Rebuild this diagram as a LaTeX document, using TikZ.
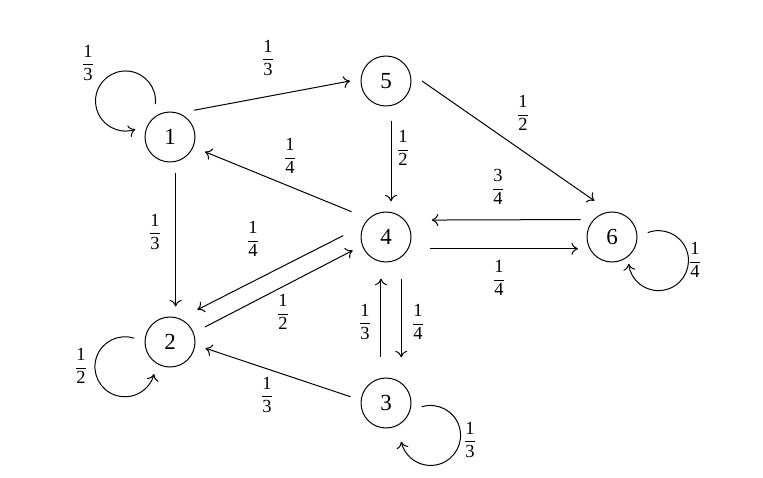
\documentclass[tikz,border=0pt]{standalone}
\usepackage{fontspec}
\setmainfont{Liberation Serif}
\usetikzlibrary{arrows.meta}
\newcommand\myfrac[2]{$\displaystyle\frac{\mbox{#1}}{\mbox{#2}}$}
\begin{document}
\begin{tikzpicture}[x=1pt,y=1pt,
  state/.style={circle,draw,line width=1pt,minimum size=50pt,inner sep=0pt,outer sep=11pt,font=\fontsize{23}{25}\selectfont},
  lab/.style={inner sep=0pt,font=\fontsize{18.5}{21}\selectfont},
  arr/.style={line width=1pt,-{To[length=6.5pt,width=12pt]}}]
\useasboundingbox (0,0) rectangle (763,477);
\node[state] (n1) at (170,340) {1};
\node[state] (n5) at (386,396) {5};
\node[state] (n4) at (386,240) {4};
\node[state] (n6) at (612,240) {6};
\node[state] (n2) at (170,135) {2};
\node[state] (n3) at (386,74) {3};
% edges
\draw[arr] (n1.48) -- (n5.180);
\draw[arr,shorten >=5pt] (n5.0) -- (n6.112);
\draw[arr,shorten <=4pt] (n5.-82) -- (n4.82);
\draw[arr,shorten <=7pt,shorten >=2pt] (n4.141) -- (n1.-23);
\draw[arr,shorten <=8pt,shorten >=7pt] (n4.172) -- (n2.54);
\draw[arr,shorten <=2pt] (n2.23) -- (n4.202);
\draw[arr] (n3.170) -- (n2.-10);
\draw[arr] (n1.-81.5) -- (n2.81.5);
\draw[arr,shorten <=10pt] (n4.-19.5) -- (n6.199.5);
\draw[arr,shorten >=14pt] (n6.151.8) -- (n4.28.2);
\draw[arr,shorten <=10pt,shorten >=6pt] (n3.98) -- (n4.-98);
\draw[arr,shorten <=9pt,shorten >=13pt] (n4.-65.4) -- (n3.65.4);
% loops
\draw[arr] (n1.114) arc[start angle=-6,end angle=289,radius=30pt];
\draw[arr] (n6.7) arc[start angle=111,end angle=-174,radius=30pt];
\draw[arr] (n3.-6) arc[start angle=107,end angle=-168,radius=30pt];
\draw[arr] (n2.174) arc[start angle=72,end angle=346,radius=30pt];
% labels
\node[lab] (l11) at (88,414) {\myfrac{1}{3}};
\node[lab] (l15) at (268,419) {\myfrac{1}{3}};
\node[lab] (l41) at (290,321) {\myfrac{1}{4}};
\node[lab] (l54) at (403,329) {\myfrac{1}{2}};
\node[lab] (l56) at (523,364) {\myfrac{1}{2}};
\node[lab] (l64) at (498,290) {\myfrac{3}{4}};
\node[lab] (l46) at (499,199) {\myfrac{1}{4}};
\node[lab] (l66) at (695,217) {\myfrac{1}{4}};
\node[lab] (l12) at (155,245) {\myfrac{1}{3}};
\node[lab] (l42) at (253,238) {\myfrac{1}{4}};
\node[lab] (l24) at (283,165) {\myfrac{1}{2}};
\node[lab] (l34) at (365,155) {\myfrac{1}{3}};
\node[lab] (l43) at (418,155) {\myfrac{1}{4}};
\node[lab] (l32) at (267,82) {\myfrac{1}{3}};
\node[lab] (l33) at (470,37) {\myfrac{1}{3}};
\node[lab] (l22) at (81,111) {\myfrac{1}{2}};
\end{tikzpicture}
\end{document}
